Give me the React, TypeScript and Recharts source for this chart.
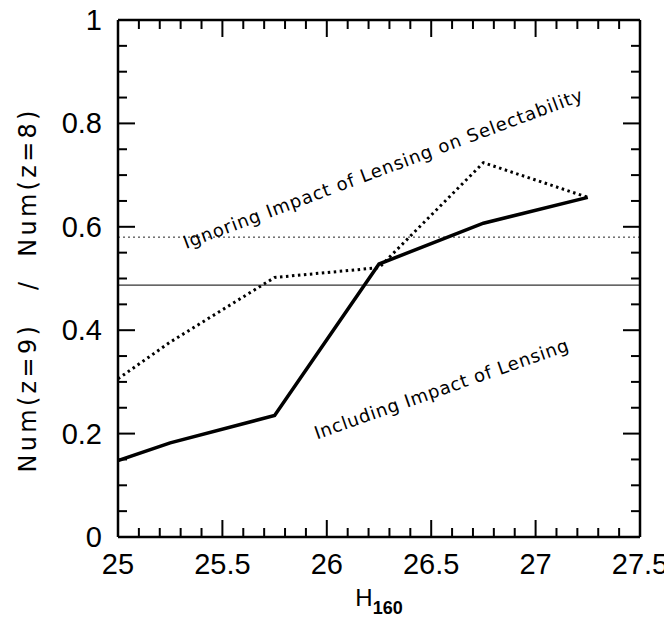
import React from 'react'
import { LineChart, Line, XAxis, YAxis, ReferenceLine, ReferenceDot } from 'recharts'

// H160 magnitude bins
const magnitudes = [25, 25.25, 25.75, 26.25, 26.75, 27.25]
// Num(z=9)/Num(z=8), lensing included in selectability
const withLensing = [0.148, 0.182, 0.235, 0.528, 0.607, 0.657]
// Num(z=9)/Num(z=8), lensing ignored
const ignoringLensing = [0.306, 0.377, 0.502, 0.521, 0.724, 0.657]

const meanIgnoring = 0.58
const meanIncluding = 0.487

const xTicks = [
  25, 25.1, 25.2, 25.3, 25.4, 25.5, 25.6, 25.7, 25.8, 25.9, 26, 26.1, 26.2, 26.3, 26.4,
  26.5, 26.6, 26.7, 26.8, 26.9, 27, 27.1, 27.2, 27.3, 27.4, 27.5,
]
const xTickLabels = ['25', '25.5', '26', '26.5', '27', '27.5']
const yTicks = [
  0, 0.05, 0.1, 0.15, 0.2, 0.25, 0.3, 0.35, 0.4, 0.45, 0.5, 0.55, 0.6, 0.65, 0.7, 0.75,
  0.8, 0.85, 0.9, 0.95, 1,
]
const yTickLabels = ['0', '0.2', '0.4', '0.6', '0.8', '1']

const data = magnitudes.map((m, i) => ({
  mag: m,
  incl: withLensing[i],
  ign: ignoringLensing[i],
}))

const FONT = '"Liberation Sans", Arial, sans-serif'
const NOTE_FONT = '"DejaVu Sans", sans-serif'
const MAJOR = 17
const MINOR = 9

const isMajor = (v: number, step: number) => Math.abs(v / step - Math.round(v / step)) < 1e-6

const BottomTick = (props: any) => {
  const { x, y, payload } = props
  const v = payload.value
  const major = isMajor(v, 0.5)
  const label = xTickLabels.find((l) => Math.abs(parseFloat(l) - v) < 1e-6)
  return (
    <g>
      <line x1={x} x2={x} y1={y} y2={y - (major ? MAJOR : MINOR)} stroke="#000" strokeWidth={2} />
      {major && label && (
        <text x={x} y={y + 37} textAnchor="middle" fontSize={29} fontFamily={FONT} fill="#000">
          {label}
        </text>
      )}
    </g>
  )
}

const TopTick = (props: any) => {
  const { x, y, payload } = props
  const major = isMajor(payload.value, 0.5)
  return <line x1={x} x2={x} y1={y} y2={y + (major ? MAJOR : MINOR)} stroke="#000" strokeWidth={2} />
}

const LeftTick = (props: any) => {
  const { x, y, payload } = props
  const v = payload.value
  const major = isMajor(v, 0.2)
  const label = yTickLabels.find((l) => Math.abs(parseFloat(l) - v) < 1e-6)
  return (
    <g>
      <line x1={x} x2={x + (major ? MAJOR : MINOR)} y1={y} y2={y} stroke="#000" strokeWidth={2} />
      {major && label && (
        <text x={x - 16} y={y + 10} textAnchor="end" fontSize={29} fontFamily={FONT} fill="#000">
          {label}
        </text>
      )}
    </g>
  )
}

const RightTick = (props: any) => {
  const { x, y, payload } = props
  const major = isMajor(payload.value, 0.2)
  return <line x1={x} x2={x - (major ? MAJOR : MINOR)} y1={y} y2={y} stroke="#000" strokeWidth={2} />
}

const note = (text: string, angle: number, length: number) => (p: any) => (
  <text
    x={p.cx}
    y={p.cy}
    transform={`rotate(${angle} ${p.cx} ${p.cy})`}
    textAnchor="middle"
    dominantBaseline="middle"
    fontSize={18}
    fontFamily={NOTE_FONT}
    textLength={length}
    lengthAdjust="spacing"
    fill="#000"
  >
    {text}
  </text>
)

const XLabel = (props: any) => {
  const { viewBox } = props
  const cx = viewBox.x + viewBox.width / 2
  return (
    <text x={cx} y={viewBox.y + 69} textAnchor="middle" fontFamily={FONT} fill="#000">
      <tspan fontSize={24}>H</tspan>
      <tspan fontSize={18} dy={8} fontWeight="bold">160</tspan>
    </text>
  )
}

const YLabel = (props: any) => {
  const { viewBox } = props
  const cx = 21
  const cy = viewBox.y + viewBox.height / 2 + 13
  return (
    <text
      x={cx}
      y={cy}
      transform={`rotate(-90 ${cx} ${cy})`}
      textAnchor="middle"
      dominantBaseline="middle"
      fontSize={24}
      fontFamily={NOTE_FONT}
      textLength={362}
      lengthAdjust="spacing"
      fill="#000"
      style={{ whiteSpace: 'pre' }}
    >
      {'Num(z=9)   /  Num(z=8)'}
    </text>
  )
}

export default function App() {
  return (
    <LineChart
      width={664}
      height={613}
      data={data}
      margin={{ top: 11, right: 31, bottom: 0, left: 0 }}
      style={{ overflow: 'visible' }}
    >
      <XAxis
        xAxisId="b"
        dataKey="mag"
        type="number"
        domain={[25, 27.5]}
        ticks={xTicks}
        interval={0}
        height={84}
        tickSize={0}
        tickMargin={0}
        axisLine={{ stroke: '#000', strokeWidth: 2.5 }}
        tickLine={false}
        tick={<BottomTick />}
        label={<XLabel />}
        allowDataOverflow
      />
      <XAxis
        xAxisId="t"
        orientation="top"
        dataKey="mag"
        type="number"
        domain={[25, 27.5]}
        ticks={xTicks}
        interval={0}
        height={1}
        tickSize={0}
        tickMargin={0}
        axisLine={{ stroke: '#000', strokeWidth: 2.5 }}
        tickLine={false}
        tick={<TopTick />}
        allowDataOverflow
      />
      <YAxis
        yAxisId="l"
        type="number"
        domain={[0, 1]}
        ticks={yTicks}
        interval={0}
        width={110}
        tickSize={0}
        tickMargin={0}
        axisLine={{ stroke: '#000', strokeWidth: 2.5 }}
        tickLine={false}
        tick={<LeftTick />}
        label={<YLabel />}
        allowDataOverflow
      />
      <YAxis
        yAxisId="r"
        orientation="right"
        type="number"
        domain={[0, 1]}
        ticks={yTicks}
        interval={0}
        width={1}
        tickSize={0}
        tickMargin={0}
        axisLine={{ stroke: '#000', strokeWidth: 2.5 }}
        tickLine={false}
        tick={<RightTick />}
        allowDataOverflow
      />
      <ReferenceLine xAxisId="b" yAxisId="l" y={meanIgnoring} stroke="#222" strokeWidth={1} strokeDasharray="2 3" />
      <ReferenceLine xAxisId="b" yAxisId="l" y={meanIncluding} stroke="#333" strokeWidth={1.3} />
      <Line
        xAxisId="b"
        yAxisId="l"
        dataKey="ign"
        stroke="#000"
        strokeWidth={3}
        strokeDasharray="2.5 3.5"
        dot={false}
        activeDot={false}
        isAnimationActive={false}
      />
      <Line
        xAxisId="b"
        yAxisId="l"
        dataKey="incl"
        stroke="#000"
        strokeWidth={3.5}
        dot={false}
        activeDot={false}
        isAnimationActive={false}
      />
      <Line xAxisId="t" yAxisId="r" dataKey="incl" stroke="none" dot={false} activeDot={false} isAnimationActive={false} />
      <ReferenceDot
        xAxisId="b"
        yAxisId="l"
        x={26.27}
        y={0.71}
        r={0}
        shape={note('Ignoring  Impact  of  Lensing  on  Selectability', -20.5, 425)}
      />
      <ReferenceDot
        xAxisId="b"
        yAxisId="l"
        x={26.55}
        y={0.284}
        r={0}
        shape={note('Including  Impact  of  Lensing', -19.4, 268)}
      />
    </LineChart>
  )
}
